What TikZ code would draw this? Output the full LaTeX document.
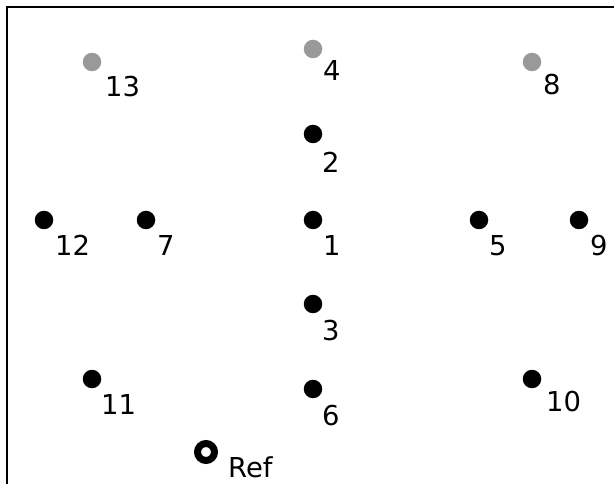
\documentclass[tikz,border=0pt]{standalone}
\usepackage{fontspec}
\setmainfont{DejaVu Sans}
\definecolor{ptgray}{RGB}{153,153,153}
\begin{document}
\begin{tikzpicture}[x=1pt,y=-1pt,
  dotb/.style={circle,fill=black,inner sep=0pt,minimum size=18.5pt},
  dotg/.style={circle,fill=ptgray,inner sep=0pt,minimum size=18.5pt},
  reft/.style={circle,draw=black,line width=7pt,fill=white,inner sep=0pt,minimum size=17pt},
  lab/.style={anchor=base west,inner sep=0pt,font=\fontsize{27.4}{30}\selectfont}]
\useasboundingbox (0,0) rectangle (614,484);
\draw[line width=2pt] (7,485) -- (7,7.5) -- (615,7.5);
% points
\node[dotg] (p13) at (92,62) {};
\node[dotg] (p4) at (313,49) {};
\node[dotg] (p8) at (532,62) {};
\node[dotb] (p2) at (313,134) {};
\node[dotb] (p12) at (44,220) {};
\node[dotb] (p7) at (146,220) {};
\node[dotb] (p1) at (313,220) {};
\node[dotb] (p5) at (479,220) {};
\node[dotb] (p9) at (579,220) {};
\node[dotb] (p3) at (313,304) {};
\node[dotb] (p11) at (92,379) {};
\node[dotb] (p6) at (313,389) {};
\node[dotb] (p10) at (532,379) {};
\node[reft] (pref) at (206,452) {};
% labels
\node[lab] (l13) at (105,97) {13};
\node[lab] (l4) at (323,81) {4};
\node[lab] (l8) at (543,95) {8};
\node[lab] (l2) at (322,173) {2};
\node[lab] (l12) at (55,255) {12};
\node[lab] (l7) at (157,255) {7};
\node[lab] (l1) at (323,255) {1};
\node[lab] (l5) at (489,255) {5};
\node[lab] (l9) at (590,255) {9};
\node[lab] (l3) at (322,340) {3};
\node[lab] (l11) at (101,414) {11};
\node[lab] (l6) at (322,425) {6};
\node[lab] (l10) at (546,411) {10};
\node[lab] (lref) at (228,477) {Ref};
\end{tikzpicture}
\end{document}
